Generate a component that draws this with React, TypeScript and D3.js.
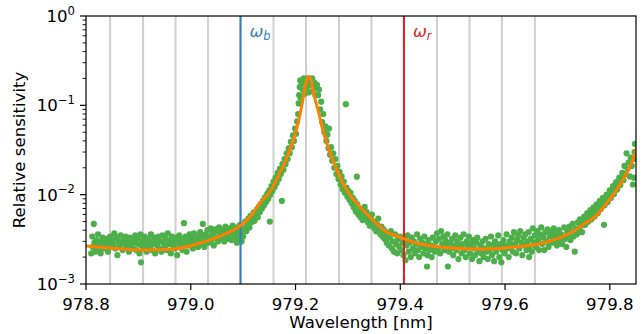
import React from "react";
import * as d3 from "d3";

// ---- data ----
const xTicks = [978.8, 979.0, 979.2, 979.4, 979.6, 979.8];
const yTickExp = [0, -1, -2, -3];
const gridLines = [978.846, 978.909, 978.971, 979.033, 979.095, 979.158, 979.220, 979.283, 979.345, 979.407, 979.470, 979.532, 979.594, 979.657];
const blueLine = 979.095;
const redLine = 979.407;

const fitWl = [978.800, 978.846, 978.909, 978.970, 979.018, 979.056, 979.094, 979.113, 979.132, 979.151, 979.170, 979.189, 979.203, 979.214, 979.2199, 979.2256, 979.2294, 979.233, 979.243, 979.252, 979.266, 979.279, 979.290, 979.304, 979.329, 979.348, 979.374, 979.399, 979.424, 979.476, 979.539, 979.571, 979.615, 979.680, 979.724, 979.748, 979.775, 979.794, 979.813, 979.832, 979.844, 979.852];
const fitVal = [0.00266, 0.00253, 0.00240, 0.00247, 0.00288, 0.00344, 0.00446, 0.00562, 0.00807, 0.01071, 0.01747, 0.0316, 0.0572, 0.1148, 0.18, 0.21, 0.195, 0.1484, 0.0887, 0.0530, 0.0293, 0.0189, 0.0135, 0.00991, 0.00673, 0.00520, 0.00382, 0.00336, 0.00295, 0.00259, 0.00247, 0.00247, 0.00259, 0.00295, 0.00372, 0.00457, 0.00592, 0.00807, 0.01128, 0.01747, 0.0244, 0.0345];

const measured: [number, number][] = [
  [978.810, 2.2e-3], [978.812, 3.4e-3], [978.813, 2.6e-3], [978.815, 4.7e-3], [978.816, 2.9e-3], [978.818, 2.3e-3], [978.820, 3.1e-3], [978.821, 2.7e-3], [978.823, 3.6e-3], [978.825, 2.4e-3],
  [978.826, 3.0e-3], [978.828, 2.2e-3], [978.830, 2.8e-3], [978.832, 3.3e-3], [978.834, 2.5e-3], [978.836, 3.0e-3], [978.838, 2.7e-3], [978.840, 3.2e-3], [978.842, 2.3e-3], [978.844, 2.9e-3],
  [978.846, 3.4e-3], [978.848, 2.6e-3], [978.850, 3.1e-3], [978.852, 2.8e-3], [978.854, 3.7e-3], [978.856, 2.5e-3], [978.858, 3.3e-3], [978.860, 2.1e-3], [978.862, 3.0e-3], [978.864, 2.7e-3],
  [978.866, 3.5e-3], [978.868, 2.9e-3], [978.870, 2.4e-3], [978.872, 3.2e-3], [978.874, 2.8e-3], [978.876, 3.4e-3], [978.878, 2.6e-3], [978.880, 3.0e-3], [978.882, 2.3e-3], [978.884, 3.3e-3],
  [978.886, 2.7e-3], [978.888, 3.1e-3], [978.890, 2.5e-3], [978.892, 2.9e-3], [978.894, 3.5e-3], [978.896, 2.4e-3], [978.898, 3.2e-3], [978.900, 2.8e-3], [978.902, 2.2e-3], [978.904, 3.6e-3],
  [978.905, 1.75e-3], [978.906, 2.7e-3], [978.908, 3.1e-3], [978.910, 2.5e-3], [978.912, 3.4e-3], [978.914, 2.9e-3], [978.916, 2.3e-3], [978.918, 3.2e-3], [978.920, 2.6e-3], [978.922, 3.0e-3],
  [978.924, 3.6e-3], [978.926, 2.4e-3], [978.928, 2.8e-3], [978.930, 3.3e-3], [978.932, 2.2e-3], [978.934, 3.1e-3], [978.936, 2.7e-3], [978.938, 3.4e-3], [978.940, 2.5e-3], [978.942, 3.0e-3],
  [978.944, 2.3e-3], [978.946, 3.5e-3], [978.948, 2.9e-3], [978.950, 2.6e-3], [978.952, 3.2e-3], [978.954, 2.4e-3], [978.956, 3.7e-3], [978.958, 2.8e-3], [978.960, 3.1e-3], [978.962, 2.2e-3],
  [978.964, 3.4e-3], [978.966, 2.7e-3], [978.968, 3.0e-3], [978.970, 2.5e-3], [978.972, 3.3e-3], [978.974, 2.1e-3], [978.976, 2.9e-3], [978.978, 3.5e-3], [978.980, 2.6e-3], [978.982, 3.2e-3],
  [978.984, 2.4e-3], [978.986, 3.0e-3], [978.987, 4.8e-3], [978.988, 2.8e-3], [978.990, 3.4e-3], [978.992, 2.3e-3], [978.994, 3.1e-3], [978.996, 2.7e-3], [978.998, 3.6e-3],
  [979.000, 2.9e-3], [979.002, 3.3e-3], [979.004, 2.5e-3], [979.006, 3.7e-3], [979.008, 3.0e-3], [979.010, 2.7e-3], [979.012, 3.4e-3], [979.014, 2.6e-3], [979.016, 3.1e-3], [979.018, 3.8e-3],
  [979.020, 2.8e-3], [979.022, 3.5e-3], [979.023, 4.7e-3], [979.024, 3.0e-3], [979.026, 2.6e-3], [979.028, 3.6e-3], [979.030, 3.2e-3], [979.032, 4.0e-3], [979.034, 2.9e-3], [979.036, 3.4e-3],
  [979.038, 4.2e-3], [979.040, 3.1e-3], [979.042, 3.7e-3], [979.044, 2.7e-3], [979.046, 4.1e-3], [979.048, 3.3e-3], [979.050, 3.9e-3], [979.052, 3.0e-3], [979.054, 4.3e-3], [979.056, 3.5e-3],
  [979.058, 3.2e-3], [979.060, 4.0e-3], [979.062, 3.6e-3], [979.064, 3.0e-3], [979.066, 4.4e-3], [979.068, 3.4e-3], [979.070, 3.9e-3], [979.072, 3.2e-3], [979.074, 4.2e-3], [979.076, 3.7e-3],
  [979.078, 3.1e-3], [979.080, 4.5e-3], [979.082, 3.5e-3], [979.084, 4.0e-3], [979.086, 3.3e-3], [979.088, 2.9e-3], [979.089, 4.3e-3], [979.090, 3.8e-3], [979.092, 3.2e-3], [979.094, 4.6e-3],
  [979.096, 3.6e-3], [979.097, 3.0e-3], [979.098, 4.1e-3], [979.100, 3.4e-3],
  [979.102, 4.2e-3], [979.104, 5.0e-3], [979.106, 3.9e-3], [979.108, 4.6e-3], [979.110, 5.4e-3], [979.112, 4.3e-3], [979.114, 5.8e-3], [979.116, 4.9e-3], [979.118, 5.3e-3], [979.120, 6.3e-3],
  [979.122, 5.1e-3], [979.124, 5.9e-3], [979.126, 6.8e-3], [979.128, 5.6e-3], [979.130, 7.3e-3], [979.132, 6.4e-3], [979.134, 7.9e-3], [979.136, 7.0e-3], [979.138, 8.6e-3], [979.140, 7.6e-3],
  [979.142, 9.4e-3], [979.144, 8.3e-3], [979.146, 1.02e-2], [979.148, 9.0e-3], [979.150, 1.12e-2], [979.151, 5.0e-3], [979.152, 1.0e-2], [979.154, 1.25e-2], [979.156, 1.1e-2], [979.158, 1.4e-2],
  [979.160, 1.22e-2], [979.162, 1.55e-2], [979.164, 1.35e-2], [979.166, 1.75e-2], [979.168, 1.5e-2], [979.170, 1.95e-2], [979.172, 1.7e-2], [979.174, 8.5e-3], [979.175, 2.2e-2], [979.177, 1.9e-2],
  [979.179, 2.5e-2], [979.181, 2.2e-2], [979.183, 2.9e-2], [979.185, 2.5e-2], [979.187, 3.3e-2], [979.189, 2.9e-2], [979.191, 3.9e-2], [979.193, 3.4e-2], [979.195, 4.6e-2], [979.197, 4.0e-2],
  [979.199, 5.5e-2], [979.201, 4.8e-2], [979.203, 6.6e-2], [979.205, 8.0e-2], [979.206, 0.105], [979.207, 0.13], [979.208, 0.16], [979.209, 0.19], [979.210, 0.12], [979.212, 0.175],
  [979.214, 0.15], [979.216, 0.2], [979.218, 0.135], [979.220, 0.18], [979.222, 0.16], [979.224, 0.2], [979.226, 0.14], [979.228, 0.19], [979.230, 0.17], [979.232, 0.2],
  [979.234, 0.15], [979.236, 0.18], [979.238, 0.13], [979.240, 0.16],
  [979.241, 0.17], [979.243, 0.13], [979.245, 0.15], [979.247, 0.09], [979.249, 0.11], [979.251, 0.065], [979.253, 0.08], [979.255, 0.05], [979.257, 0.058], [979.259, 0.04],
  [979.261, 0.047], [979.263, 0.033], [979.264, 0.055], [979.266, 0.028], [979.268, 0.034], [979.270, 0.024], [979.272, 0.029], [979.274, 0.02], [979.276, 0.025], [979.278, 0.017],
  [979.280, 0.021], [979.282, 0.015], [979.284, 0.018], [979.286, 0.013], [979.288, 0.016], [979.290, 0.0115], [979.292, 0.014], [979.294, 0.0105], [979.296, 0.103], [979.297, 0.012],
  [979.299, 0.0095], [979.301, 0.011], [979.303, 0.0088],
  [979.305, 1.05e-2], [979.307, 8.0e-3], [979.309, 9.3e-3], [979.311, 7.2e-3], [979.313, 8.5e-3], [979.315, 6.5e-3], [979.317, 1.59e-2], [979.318, 7.8e-3], [979.320, 6.0e-3], [979.322, 7.0e-3],
  [979.324, 5.6e-3], [979.326, 6.6e-3], [979.328, 5.2e-3], [979.330, 6.1e-3], [979.332, 7.3e-3], [979.334, 5.5e-3], [979.336, 6.4e-3], [979.338, 4.9e-3], [979.340, 5.8e-3], [979.342, 4.5e-3],
  [979.344, 5.3e-3], [979.346, 6.0e-3], [979.348, 4.7e-3], [979.350, 4.2e-3], [979.352, 5.0e-3], [979.354, 3.9e-3], [979.356, 4.6e-3], [979.358, 5.4e-3], [979.360, 4.0e-3], [979.362, 3.6e-3],
  [979.364, 4.4e-3], [979.366, 3.4e-3], [979.368, 4.1e-3], [979.370, 3.2e-3], [979.372, 3.8e-3], [979.374, 2.9e-3], [979.376, 3.5e-3], [979.378, 2.7e-3], [979.380, 3.3e-3], [979.382, 3.9e-3],
  [979.384, 2.5e-3], [979.386, 3.0e-3], [979.388, 2.3e-3], [979.390, 3.6e-3], [979.392, 2.8e-3], [979.394, 2.2e-3], [979.396, 3.2e-3], [979.398, 2.6e-3], [979.400, 3.4e-3], [979.402, 2.4e-3],
  [979.404, 2.9e-3], [979.406, 2.1e-3], [979.408, 3.1e-3], [979.410, 1.85e-3], [979.412, 2.7e-3], [979.414, 3.5e-3], [979.416, 2.3e-3], [979.418, 2.9e-3], [979.420, 2.0e-3], [979.422, 3.3e-3],
  [979.424, 2.5e-3], [979.426, 3.0e-3], [979.428, 2.2e-3], [979.430, 2.8e-3], [979.432, 3.6e-3], [979.434, 2.4e-3], [979.436, 2.0e-3], [979.438, 3.2e-3], [979.440, 2.6e-3], [979.442, 2.9e-3],
  [979.444, 2.2e-3], [979.446, 3.4e-3], [979.448, 2.5e-3], [979.450, 2.8e-3], [979.451, 1.57e-3], [979.452, 2.1e-3], [979.454, 3.1e-3], [979.456, 2.4e-3], [979.458, 2.7e-3], [979.460, 2.0e-3],
  [979.462, 3.3e-3], [979.464, 2.6e-3], [979.466, 2.3e-3], [979.468, 3.0e-3], [979.470, 3.7e-3], [979.472, 2.5e-3], [979.474, 3.2e-3], [979.476, 2.2e-3], [979.478, 3.9e-3], [979.480, 2.8e-3],
  [979.482, 3.4e-3], [979.484, 2.4e-3], [979.486, 3.1e-3], [979.488, 2.7e-3], [979.490, 3.6e-3], [979.491, 1.57e-3], [979.493, 2.3e-3], [979.495, 2.9e-3],
  [979.497, 2.5e-3], [979.499, 3.2e-3], [979.501, 2.1e-3], [979.503, 2.7e-3], [979.505, 3.5e-3], [979.507, 2.4e-3], [979.509, 3.0e-3], [979.511, 1.9e-3], [979.513, 2.6e-3], [979.515, 3.3e-3],
  [979.517, 2.2e-3], [979.519, 2.8e-3], [979.521, 3.6e-3], [979.523, 2.4e-3], [979.525, 2.0e-3], [979.527, 3.0e-3], [979.529, 2.6e-3], [979.531, 3.4e-3], [979.533, 2.2e-3], [979.535, 2.8e-3],
  [979.537, 1.9e-3], [979.539, 3.1e-3], [979.541, 2.5e-3], [979.543, 2.1e-3], [979.545, 2.9e-3], [979.547, 3.3e-3], [979.549, 2.3e-3], [979.551, 1.8e-3], [979.553, 2.7e-3], [979.555, 2.2e-3],
  [979.557, 3.0e-3], [979.559, 2.0e-3], [979.561, 2.5e-3], [979.563, 3.2e-3], [979.565, 2.3e-3], [979.567, 1.9e-3], [979.569, 2.8e-3], [979.571, 2.4e-3], [979.573, 3.4e-3], [979.575, 2.1e-3],
  [979.577, 2.7e-3], [979.579, 1.8e-3], [979.581, 3.0e-3], [979.583, 2.3e-3], [979.585, 2.6e-3], [979.587, 3.5e-3], [979.589, 2.0e-3], [979.591, 2.8e-3], [979.593, 1.75e-3], [979.595, 2.4e-3],
  [979.597, 3.1e-3], [979.599, 2.2e-3], [979.601, 2.7e-3], [979.603, 3.6e-3], [979.605, 2.5e-3], [979.607, 2.0e-3], [979.609, 3.0e-3], [979.611, 2.6e-3], [979.613, 3.3e-3], [979.615, 2.3e-3],
  [979.617, 3.8e-3], [979.619, 2.8e-3], [979.621, 2.2e-3], [979.623, 3.1e-3], [979.625, 3.5e-3], [979.627, 2.5e-3], [979.629, 3.9e-3], [979.631, 2.9e-3], [979.633, 2.1e-3], [979.635, 3.3e-3],
  [979.637, 2.7e-3], [979.639, 3.6e-3], [979.641, 2.4e-3], [979.643, 3.0e-3], [979.645, 3.8e-3], [979.646, 2.0e-3], [979.647, 2.6e-3], [979.649, 3.2e-3],
  [979.651, 2.3e-3], [979.653, 4.2e-3], [979.655, 2.9e-3], [979.657, 3.5e-3], [979.659, 2.6e-3], [979.661, 3.9e-3], [979.663, 3.1e-3], [979.665, 2.4e-3], [979.667, 3.6e-3], [979.669, 4.3e-3],
  [979.671, 2.8e-3], [979.673, 3.3e-3], [979.675, 2.4e-3], [979.677, 3.8e-3], [979.679, 3.0e-3], [979.681, 4.1e-3], [979.683, 2.6e-3], [979.685, 3.4e-3], [979.687, 3.9e-3], [979.689, 2.9e-3],
  [979.691, 3.5e-3], [979.693, 4.2e-3], [979.695, 3.1e-3], [979.697, 3.7e-3], [979.699, 2.7e-3], [979.701, 3.3e-3], [979.703, 4.0e-3], [979.705, 3.0e-3], [979.707, 3.6e-3], [979.709, 2.8e-3],
  [979.711, 3.4e-3], [979.713, 4.3e-3], [979.715, 3.2e-3], [979.717, 2.6e-3], [979.719, 3.8e-3], [979.721, 3.5e-3], [979.723, 4.4e-3], [979.725, 3.1e-3], [979.727, 3.9e-3], [979.729, 4.7e-3],
  [979.731, 3.4e-3], [979.733, 2.3e-3], [979.735, 4.2e-3], [979.737, 3.6e-3], [979.739, 4.9e-3], [979.741, 4.0e-3], [979.743, 5.3e-3], [979.745, 4.5e-3], [979.747, 3.8e-3], [979.749, 5.0e-3],
  [979.751, 5.7e-3], [979.753, 4.6e-3], [979.755, 5.4e-3], [979.757, 6.2e-3], [979.759, 5.0e-3], [979.761, 5.8e-3], [979.763, 6.7e-3], [979.765, 5.3e-3], [979.767, 6.3e-3], [979.769, 7.2e-3],
  [979.771, 5.7e-3], [979.773, 6.8e-3], [979.775, 7.8e-3], [979.777, 6.2e-3], [979.779, 7.3e-3], [979.781, 8.5e-3], [979.783, 6.9e-3], [979.785, 8.0e-3], [979.787, 9.2e-3], [979.789, 4.6e-3],
  [979.790, 7.6e-3], [979.792, 8.8e-3], [979.794, 1.0e-2], [979.796, 8.3e-3], [979.798, 9.7e-3], [979.800, 1.12e-2], [979.802, 9.2e-3], [979.804, 1.07e-2], [979.806, 1.25e-2], [979.808, 1.02e-2],
  [979.810, 1.18e-2], [979.812, 1.38e-2], [979.814, 1.14e-2], [979.816, 1.32e-2], [979.818, 1.55e-2], [979.820, 1.28e-2], [979.822, 1.5e-2], [979.824, 1.75e-2], [979.826, 1.45e-2], [979.828, 2.1e-2],
  [979.830, 1.7e-2], [979.832, 2.9e-2], [979.834, 1.95e-2], [979.836, 2.3e-2], [979.838, 1.6e-2], [979.840, 2.6e-2], [979.842, 2.1e-2], [979.844, 1.3e-2], [979.846, 1.55e-2], [979.847, 3.0e-2],
  [979.848, 3.7e-2], [979.849, 2.5e-2],
];

// ---- layout ----
const W = 644, H = 334;
const M = { left: 86, right: 8, top: 16, bottom: 50 };
const FONT = "DejaVu Sans, Verdana, sans-serif";
const FS = 16.6;

export default function App() {
  const x = d3.scaleLinear().domain([978.8, 979.85]).range([M.left, W - M.right]);
  const y = d3.scaleLog().domain([1e-3, 1]).range([H - M.bottom, M.top]);
  const x0 = M.left, x1 = W - M.right, yTop = M.top, yBot = H - M.bottom;

  const fitPts = fitWl.map((w, i) => [w, fitVal[i]] as [number, number]);
  const line = d3
    .line<[number, number]>()
    .x((d) => x(d[0]))
    .y((d) => y(d[1]))
    .curve(d3.curveMonotoneX);

  const minorTicks: number[] = [];
  for (let e = -3; e < 0; e++) for (let m = 2; m <= 9; m++) minorTicks.push(m * Math.pow(10, e));

  return (
    <svg width={W} height={H} style={{ position: "absolute", left: 0, top: 0, background: "#fff" }} fontFamily={FONT}>
      <defs>
        <clipPath id="plotclip">
          <rect x={x0} y={yTop} width={x1 - x0} height={yBot - yTop} />
        </clipPath>
      </defs>
      <rect x={0} y={0} width={W} height={H} fill="#fff" />
      <g clipPath="url(#plotclip)">
        {gridLines.map((g, i) => (
          <line key={i} x1={x(g)} x2={x(g)} y1={yTop} y2={yBot} stroke="#cfcfcf" strokeWidth={2} />
        ))}
        {measured.map((d, i) => (
          <circle key={i} cx={x(d[0])} cy={y(d[1])} r={3.1} fill="#4daf4a" />
        ))}
        <line x1={x(blueLine)} x2={x(blueLine)} y1={yTop} y2={yBot} stroke="#377eb8" strokeWidth={2} />
        <line x1={x(redLine)} x2={x(redLine)} y1={yTop} y2={yBot} stroke="#e41a1c" strokeWidth={2} />
        <path d={line(fitPts) || ""} fill="none" stroke="#ff7f00" strokeWidth={3} strokeLinejoin="round" />
      </g>

      <text x={x(blueLine) + 9} y={37} fill="#377eb8" fontSize={16.5} fontStyle="italic">
        ω<tspan fontSize={11.5} dy={3}>b</tspan>
      </text>
      <text x={x(redLine) + 9} y={37} fill="#e41a1c" fontSize={16.5} fontStyle="italic">
        ω<tspan fontSize={11.5} dy={3}>r</tspan>
      </text>

      {/* frame */}
      <rect x={x0} y={yTop} width={x1 - x0} height={yBot - yTop} fill="none" stroke="#000" strokeWidth={1.2} />

      {/* x ticks */}
      {xTicks.map((t, i) => (
        <g key={i}>
          <line x1={x(t)} x2={x(t)} y1={yBot} y2={yBot + 6} stroke="#000" strokeWidth={1.2} />
          <text x={x(t)} y={yBot + 26} textAnchor="middle" fontSize={FS} fill="#000">
            {t.toFixed(1)}
          </text>
        </g>
      ))}
      <text x={(x0 + x1) / 2} y={328} textAnchor="middle" fontSize={FS} fill="#000">
        Wavelength [nm]
      </text>

      {/* y ticks */}
      {minorTicks.map((t, i) => (
        <line key={i} x1={x0 - 3.5} x2={x0} y1={y(t)} y2={y(t)} stroke="#000" strokeWidth={0.9} />
      ))}
      {yTickExp.map((e, i) => {
        const yy = y(Math.pow(10, e));
        return (
          <g key={i}>
            <line x1={x0 - 6} x2={x0} y1={yy} y2={yy} stroke="#000" strokeWidth={1.2} />
            <text x={x0 - 11} y={yy + 6} textAnchor="end" fontSize={FS} fill="#000">
              10<tspan fontSize={FS * 0.7} dy={-7.5}>{e === 0 ? "0" : "\u2212" + Math.abs(e)}</tspan>
            </text>
          </g>
        );
      })}
      <text transform={`translate(25,${(yTop + yBot) / 2}) rotate(-90)`} textAnchor="middle" fontSize={FS} fill="#000">
        Relative sensitivity
      </text>
    </svg>
  );
}
